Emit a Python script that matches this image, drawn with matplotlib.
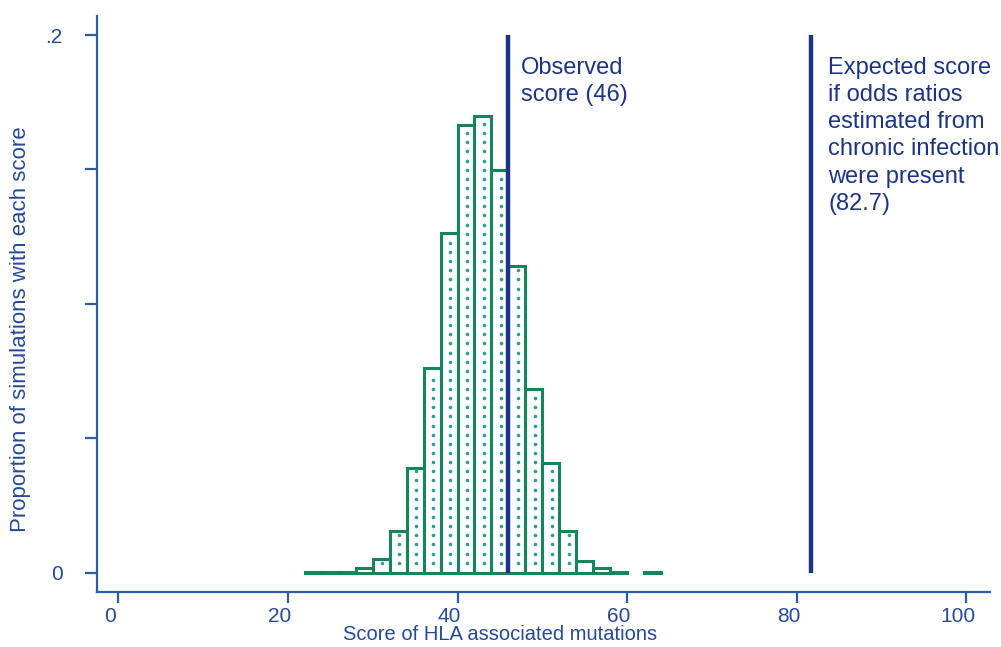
import matplotlib
matplotlib.use("Agg")
import matplotlib.pyplot as plt
import matplotlib.transforms as mtransforms
import numpy as np

# ---- data ----
bin_left = [22, 24, 26, 28, 30, 32, 34, 36, 38, 40, 42, 44, 46, 48, 50, 52, 54, 56, 58, 62]
proportion = [0.0001, 0.0001, 0.0001, 0.0016, 0.0050, 0.0156, 0.0391, 0.0760, 0.1263,
              0.1666, 0.1699, 0.1498, 0.1142, 0.0682, 0.0407, 0.0155, 0.0045, 0.0016,
              0.0001, 0.0001]
bin_width = 2
observed_score = 46
expected_line = 81.7
observed_label = "Observed\nscore (46)"
expected_label = "Expected score\nif odds ratios\nestimated from\nchronic infection\nwere present\n(82.7)"
xticks = [0, 20, 40, 60, 80, 100]
yticks = [0, 0.05, 0.1, 0.15, 0.2]
ytick_labels = ["0", "", "", "", ".2"]

# ---- style ----
plt.rcParams['font.family'] = ['Liberation Sans', 'DejaVu Sans']
axis_col = '#2a5ea8'
text_col = '#26499a'
line_col = '#1c3487'
bar_col = '#13875a'
dot_col = '#2a9d9d'

fig = plt.figure(figsize=(10.01, 6.47), dpi=100)
ax = fig.add_axes([97.3 / 1001, (647 - 592) / 647, (990 - 97.3) / 1001, (592 - 16) / 647])

ax.bar(bin_left, proportion, width=bin_width, align='edge', facecolor='white',
       edgecolor=bar_col, linewidth=2.2, zorder=2)

# dotted fill pattern inside every bar
step = 0.0034
for left, h in zip(bin_left, proportion):
    ys = np.arange(0.0037, h - 0.0012, step)
    if len(ys):
        ax.plot(np.full(len(ys), left + bin_width / 2 + 0.15), ys, linestyle='none', marker='o',
                markersize=2.6, color=dot_col, markeredgewidth=0, zorder=3)

ax.vlines([observed_score, expected_line], 0, 0.2, colors=line_col, linewidth=3.2, zorder=4)

ax.text(observed_score + 1.5, 0.1918, observed_label, ha='left', va='top', fontsize=17,
        color=line_col, linespacing=1.3)
ax.text(expected_line + 2.0, 0.1918, expected_label, ha='left', va='top', fontsize=17,
        color=line_col, linespacing=1.3)

ax.set_xlim(-2.48, 102.8)
ax.set_ylim(-0.0072, 0.2071)

for side in ['top', 'right']:
    ax.spines[side].set_visible(False)
for side in ['left', 'bottom']:
    ax.spines[side].set_color(axis_col)
    ax.spines[side].set_linewidth(1.6)

ax.set_xticks(xticks)
ax.set_xticklabels([str(v) for v in xticks])
ax.set_yticks(yticks)
ax.set_yticklabels(ytick_labels)
ax.tick_params(axis='x', direction='out', length=8, width=1.6, color=axis_col,
               labelcolor=text_col, labelsize=15, pad=3)
ax.tick_params(axis='y', direction='out', length=9, width=1.6, color=axis_col,
               labelcolor=text_col, labelsize=15, pad=16)

offset = mtransforms.ScaledTranslation(-8 / 100, 0, fig.dpi_scale_trans)
for lab in ax.get_xticklabels():
    lab.set_transform(lab.get_transform() + offset)

ax.set_xlabel("Score of HLA associated mutations", fontsize=14.5, color=text_col)
ax.xaxis.label.set_va('center')
ax.xaxis.set_label_coords((500 - 97.3) / 892.7, (592 - 634) / 576)
ax.set_ylabel("Proportion of simulations with each score", fontsize=16, color=text_col)
ax.yaxis.label.set_va('center')
ax.yaxis.set_label_coords((21 - 97.3) / 892.7, (592 - 329) / 576)

fig.savefig("out.png", dpi=100)
